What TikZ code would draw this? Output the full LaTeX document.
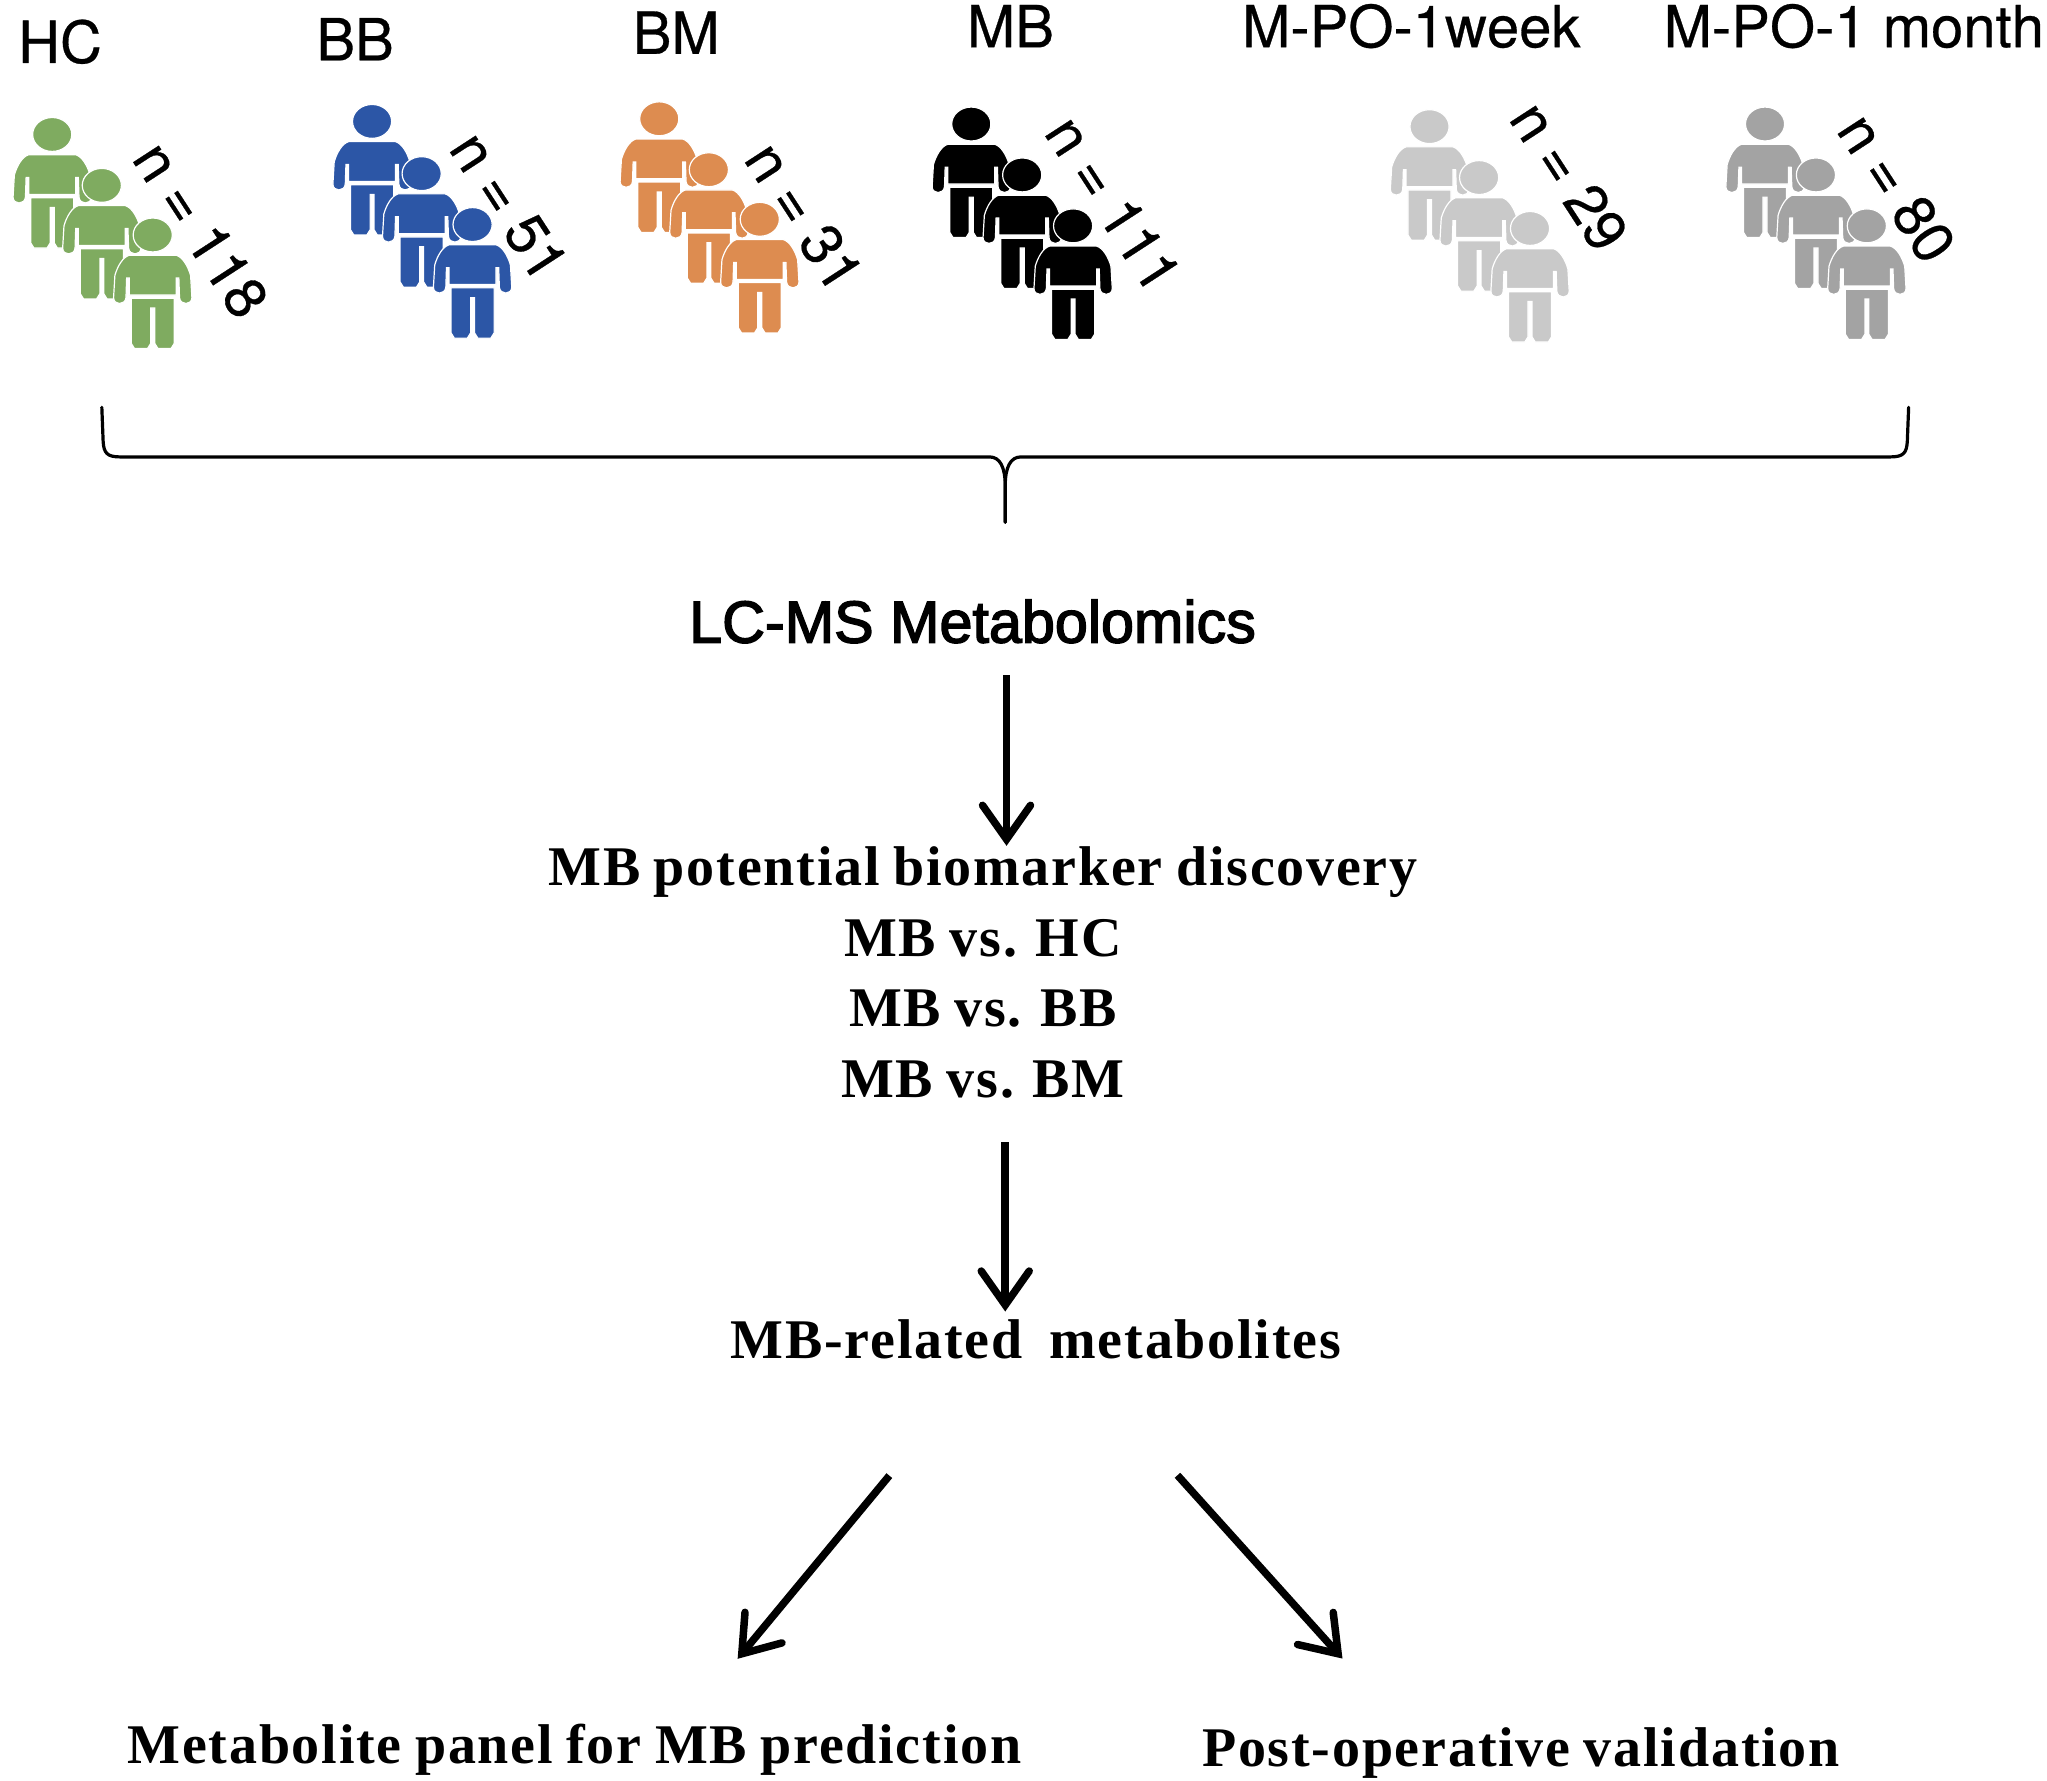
\documentclass[tikz,border=0pt]{standalone}
\usepackage{fontspec}
\usetikzlibrary{arrows.meta}
\newfontfamily\labfont[FakeBold=0.5,Kerning=Off]{TeX Gyre Heros}
\newfontfamily\lcfont[FakeBold=2.5]{Liberation Sans}
\newfontfamily\serifb[LetterSpace=3.2,WordSpace=0.85]{Liberation Serif}
\definecolor{hcgreen}{HTML}{7FAB60}
\definecolor{bbblue}{HTML}{2C56A6}
\definecolor{bmorange}{HTML}{DD8C50}
\definecolor{poa}{HTML}{C9C9C9}
\definecolor{pob}{HTML}{A3A3A3}
\tikzset{
  grouplab/.style={inner sep=0pt,font=\labfont\fontsize{58}{58}\selectfont},
  countlab/.style={inner sep=0pt,rotate=-57,font=\labfont\fontsize{58}{58}\selectfont},
  lcmslab/.style={inner sep=0pt,font=\lcfont\fontsize{59.3}{59.3}\selectfont},
  steplab/.style={inner sep=0pt,align=center,font=\serifb\bfseries\fontsize{56}{70.5}\selectfont},
  flow/.style={line width=7.5pt,-{Straight Barb[length=34pt,width=48pt,line width=7.5pt,line cap=round,line join=miter]}},
  bracket/.style={line width=3.2pt,line cap=round}
}
\newcommand{\figperson}[3]{%
\begin{scope}[shift={(#1,#2)},fill=#3,draw=white,line width=1.2pt]
  \filldraw (0,0) ellipse [x radius=15,y radius=13];
  \filldraw (-18,15.5) -- (18,15.5) .. controls (23,17) and (27,24) .. (29,31) -- (30,48)
     .. controls (30,54) and (21,54) .. (20.5,48) -- (20,33) -- (18,33) -- (18,46) -- (-18,46) -- (-18,33) -- (-20,33)
     -- (-20.5,48) .. controls (-21,54) and (-30,54) .. (-30,48) -- (-29,31)
     .. controls (-27,24) and (-23,17) .. (-18,15.5) -- cycle;
  \filldraw (-16.5,48.5) -- (16.5,48.5) -- (16.5,83) -- (14,87) -- (4,87) -- (1.5,83) -- (1.5,56) -- (-1.5,56)
     -- (-1.5,83) -- (-4,87) -- (-14,87) -- (-16.5,83) -- cycle;
\end{scope}}
\newcommand{\figgroup}[7]{\figperson{#1}{#2}{#7}\figperson{#3}{#4}{#7}\figperson{#5}{#6}{#7}}
\begin{document}
\begin{tikzpicture}[x=1.3055pt,y=-1.3055pt]
\useasboundingbox (0,0) rectangle (1568,1363.5);

\figgroup{40}{103}{78}{142}{117}{180}{hcgreen}
\figgroup{285}{93}{323}{133}{362}{172}{bbblue}
\figgroup{505}{91}{543}{130}{582}{168}{bmorange}
\figgroup{744}{95}{783}{134}{822}{173}{black}
\figgroup{1095}{97}{1133}{136}{1172}{175}{poa}
\figgroup{1352}{95}{1391}{134}{1430}{173}{pob}

\node[grouplab] (hc) at (46,32) {HC};
\node[grouplab] (bb) at (272,30) {BB};
\node[grouplab] (bm) at (518,25) {BM};
\node[grouplab] (mb) at (774,20) {MB};
\node[grouplab] (poweek) at (1081,20) {M-PO-1week};
\node[grouplab] (pomonth) at (1420,20) {M-PO-1 month};

\node[countlab] (nhc) at (154,176) {n = 118};
\node[countlab] (nbb) at (390,158) {n = 51};
\node[countlab] (nbm) at (616,166) {n = 31};
\node[countlab] (nmb) at (853,156) {n = 111};
\node[countlab] (npoweek) at (1202,135) {n = 29};
\node[countlab] (npomonth) at (1453,144) {n = 80};

\coordinate (bl) at (78,312);
\coordinate (br) at (1462,312);
\coordinate (bs) at (770,400);
\draw[bracket] (bl) -- (79,338) .. controls (79.5,347) and (82,350) .. (92,350)
   -- (758,350) .. controls (766,350) and (770,358) .. (770,372) -- (bs);
\draw[bracket] (br) -- (1461,338) .. controls (1460.5,347) and (1458,350) .. (1448,350)
   -- (782,350) .. controls (774,350) and (770,358) .. (770,372) -- (bs);

\node[lcmslab] (lcms) at (745,476) {LC-MS Metabolomics};
\node[steplab] (disc) at (753,745) {MB potential biomarker discovery\\MB vs. HC\\MB vs. BB\\MB vs. BM};
\node[steplab] (related) at (793.5,1026) {MB-related\ \ metabolites};
\node[steplab] (panel) at (440,1340) {Metabolite panel for MB prediction};
\node[steplab] (post) at (1165,1343) {Post-operative validation};

\coordinate (ax) at (771,0);
\coordinate (bx) at (770,0);
\coordinate (cs) at (755,0);
\coordinate (ce) at (524,0);
\coordinate (ds) at (822,0);
\coordinate (de) at (1076,0);
\draw[flow,shorten <=32pt,shorten >=1pt] (lcms.south -| ax) -- (disc.north -| ax);
\draw[flow,shorten <=44pt,shorten >=8pt] (disc.south -| bx) -- (related.north -| bx);
\draw[flow,shorten <=151pt,shorten >=84pt] (related.south -| cs) -- (panel.north -| ce);
\draw[flow,shorten <=156pt,shorten >=93pt] (related.south -| ds) -- (post.north -| de);
\end{tikzpicture}
\end{document}
